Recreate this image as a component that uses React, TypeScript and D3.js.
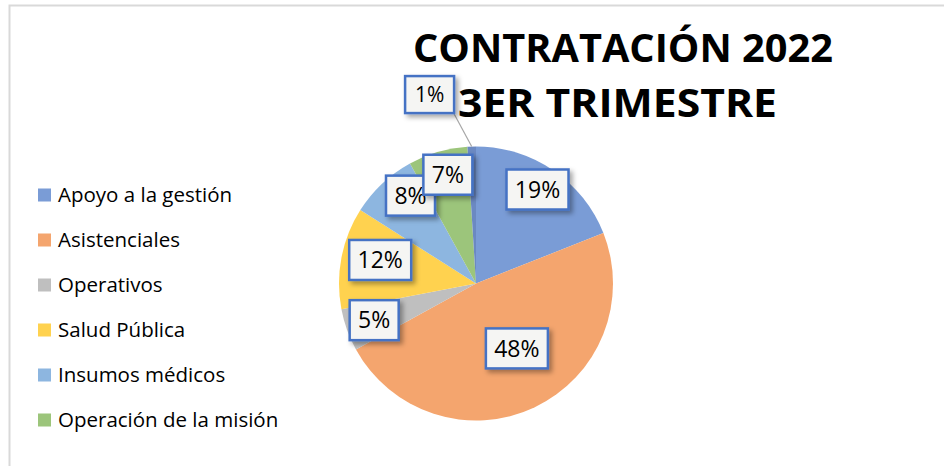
import React, { useEffect, useRef } from "react";
import * as d3 from "d3";

// data (percent of contracts, 3rd quarter 2022)
const categories = [
  "Apoyo a la gestión",
  "Asistenciales",
  "Operativos",
  "Salud Pública",
  "Insumos médicos",
  "Operación de la misión",
  "Otros",
];
const values = [19, 48, 5, 12, 8, 7, 1];
const colors = ["#7a9cd6", "#f4a56e", "#bfbfbf", "#ffd24f", "#8db6e0", "#9cc57b", "#6b89c2"];
const legendCount = 6; // the last category does not show in the legend

const titleLines = ["CONTRATACIÓN 2022", "3ER TRIMESTRE"];

const W = 944;
const H = 466;

// label placement: radius as fraction of R, angle nudge in degrees
const labelLayout = [
  { r: 0.82, da: -1 },
  { r: 0.56, da: -7 },
  { r: 0.79, da: 0 },
  { r: 0.72, da: 3 },
  { r: 0.8, da: 6.5 },
  { r: 0.82, da: 1.7 },
  { r: 1.42, da: -12 },
];

const App = () => {
  const svgRef = useRef<SVGSVGElement | null>(null);

  useEffect(() => {
    const svg = d3.select(svgRef.current).attr("width", W).attr("height", H);
    svg.selectAll("*").remove();

    const defs = svg.append("defs");
    const f = defs
      .append("filter")
      .attr("id", "shadow")
      .attr("x", "-30%")
      .attr("y", "-30%")
      .attr("width", "170%")
      .attr("height", "170%");
    f.append("feDropShadow")
      .attr("dx", 3)
      .attr("dy", 3)
      .attr("stdDeviation", 2.5)
      .attr("flood-color", "#000")
      .attr("flood-opacity", 0.35);

    // chart frame
    svg.append("rect").attr("width", W).attr("height", H).attr("fill", "#fff");
    svg
      .append("path")
      .attr("d", `M9.5,${H} V5.5 H${W}`)
      .attr("fill", "none")
      .attr("stroke", "#d9d9d9")
      .attr("stroke-width", 2);

    // title
    const title = svg
      .append("g")
      .attr("font-family", "'Open Sans', sans-serif")
      .attr("font-weight", 700)
      .attr("font-size", 40)
      .attr("fill", "#000");
    title
      .append("text")
      .attr("x", 413)
      .attr("y", 62)
      .attr("textLength", 420)
      .attr("lengthAdjust", "spacingAndGlyphs")
      .text(titleLines[0]);
    title
      .append("text")
      .attr("x", 458)
      .attr("y", 117)
      .attr("textLength", 319)
      .attr("lengthAdjust", "spacingAndGlyphs")
      .text(titleLines[1]);

    // pie
    const cx = 476;
    const cy = 283.5;
    const R = 137;
    const g = svg.append("g").attr("transform", `translate(${cx},${cy})`);

    const pie = d3.pie<number>().sort(null).value((d) => d);
    const arcs = pie(values);
    const arc = d3.arc<d3.PieArcDatum<number>>().innerRadius(0).outerRadius(R);

    g.selectAll("path.slice")
      .data(arcs)
      .join("path")
      .attr("class", "slice")
      .attr("d", arc)
      .attr("fill", (d, i) => colors[i]);

    const total = d3.sum(values);
    const fmt = (v: number) => `${Math.round((v / total) * 100)}%`;

    const polar = (a: number, r: number) => [Math.sin(a) * r, -Math.cos(a) * r];

    arcs.forEach((d, i) => {
      const mid = (d.startAngle + d.endAngle) / 2;
      const lay = labelLayout[i];
      const [lx, ly] = polar(mid + (lay.da * Math.PI) / 180, lay.r * R);
      const txt = fmt(d.value);
      const bw = txt.length > 2 ? 62 : 49;
      const bh = txt === "1%" ? 37 : 40;

      if (lay.r > 1) {
        // leader line from the box to the slice edge
        const [ex, ey] = polar(mid, R);
        g.append("line")
          .attr("x1", lx + bw / 2 - 1)
          .attr("y1", ly + bh / 2 - 1)
          .attr("x2", ex)
          .attr("y2", ey)
          .attr("stroke", "#a6a6a6")
          .attr("stroke-width", 1.2);
      }

      g.append("rect")
        .attr("x", lx - bw / 2)
        .attr("y", ly - bh / 2)
        .attr("width", bw)
        .attr("height", bh)
        .attr("fill", "#f5f5f3")
        .attr("stroke", "#4472c4")
        .attr("stroke-width", 2.5)
        .attr("filter", "url(#shadow)");

      g.append("text")
        .attr("x", lx)
        .attr("y", ly)
        .attr("dy", "0.36em")
        .attr("text-anchor", "middle")
        .attr("font-family", "'Open Sans', sans-serif")
        .attr("font-size", txt === "1%" ? 21 : 23)
        .attr("fill", "#000")
        .text(txt);
    });

    // legend
    const legend = svg.append("g").attr("transform", "translate(38,195)");
    categories.slice(0, legendCount).forEach((c, i) => {
      const row = legend.append("g").attr("transform", `translate(0,${i * 45})`);
      row
        .append("rect")
        .attr("x", 0)
        .attr("y", -6.5)
        .attr("width", 13)
        .attr("height", 13)
        .attr("fill", colors[i]);
      row
        .append("text")
        .attr("x", 20)
        .attr("y", 0)
        .attr("dy", "0.35em")
        .attr("font-family", "'Open Sans', sans-serif")
        .attr("font-size", 20.5)
        .attr("fill", "#000")
        .text(c);
    });
  }, []);

  return (
    <svg
      ref={svgRef}
      style={{ position: "absolute", left: 0, top: 0, display: "block" }}
    ></svg>
  );
};

export default App;
